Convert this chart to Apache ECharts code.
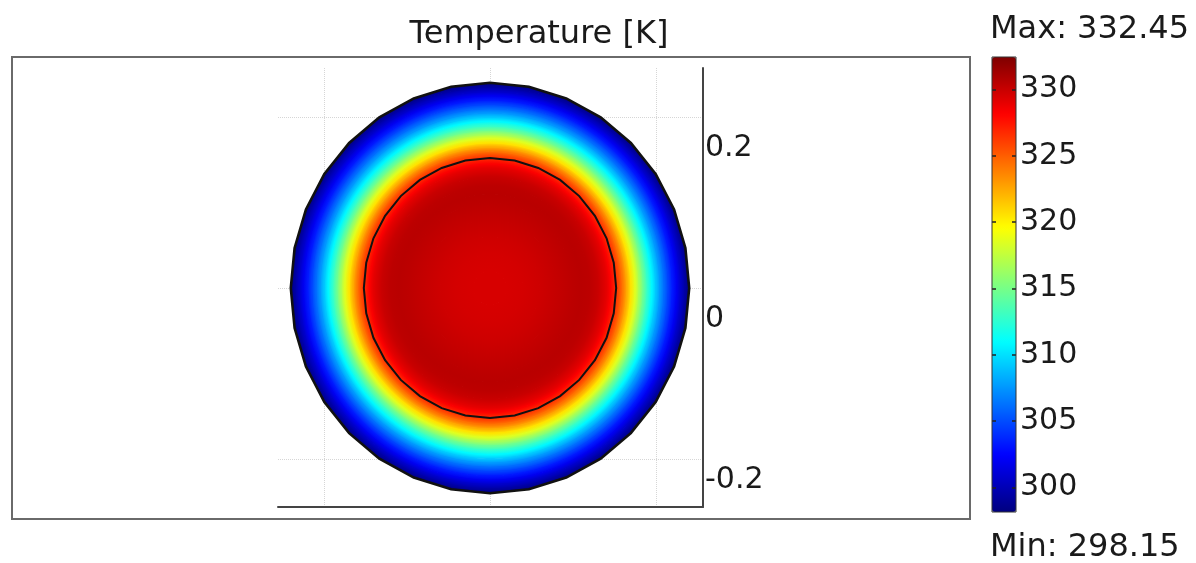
<!DOCTYPE html>
<html><head><meta charset="utf-8">
<script src="https://cdn.jsdelivr.net/npm/echarts@6/dist/echarts.min.js"></script>
<style>html,body{margin:0;padding:0;background:#fff}#chart{width:1196px;height:563px}</style>
</head><body><div id="chart"></div>
<script>
// Radial temperature profile (r in m, T in K)
const radii = [0.000, 0.020, 0.040, 0.060, 0.080, 0.100, 0.110, 0.120, 0.130, 0.140, 0.145,
               0.150, 0.155, 0.160, 0.165, 0.170, 0.175, 0.180, 0.185, 0.190, 0.195,
               0.200, 0.205, 0.210, 0.215, 0.220, 0.225, 0.230, 0.235, 0.240];
const temperatures = [329.5, 329.5, 329.6, 329.8, 330.1, 330.4, 330.5, 330.4, 330.0, 329.1, 328.3,
                      327.2, 325.8, 324.2, 322.4, 320.5, 318.5, 316.5, 314.5, 312.6, 310.8,
                      309.1, 307.5, 306.0, 304.6, 303.2, 301.9, 300.6, 299.4, 298.15];
const boundaryRadii = [0.24, 0.152];
const xRange = [-0.2554, 0.2566];
const yRange = [-0.2561, 0.2573];
const gridTicks = [-0.2, 0, 0.2];
const colorTicks = [300, 305, 310, 315, 320, 325, 330];
const tMin = 298.15, tMax = 332.45;
const titleText = 'Temperature [K]';
const maxText = 'Max: 332.45';
const minText = 'Min: 298.15';

const jet = ['#00007f','#0000ff','#007fff','#00ffff','#7fff7f','#ffff00','#ff7f00','#ff0000','#7f0000'];
const SIDES = 32;
const FONT = '"DejaVu Sans", Verdana, sans-serif';

function polygonPoints(api, R) {
  const pts = [];
  for (let k = 0; k < SIDES; k++) {
    const a = 2 * Math.PI * k / SIDES;
    pts.push(api.coord([R * Math.cos(a), R * Math.sin(a)]));
  }
  return pts;
}

function renderField(params, api) {
  const i = params.dataIndexInside;
  if (i >= radii.length - 1) return null;
  const c = api.coord([0, 0]);
  const r0 = api.value(0, i), r1 = api.value(0, i + 1);
  const rx0 = api.coord([r0, 0])[0] - c[0];
  const rx1 = api.coord([r1, 0])[0] - c[0];
  const ry1 = c[1] - api.coord([0, r1])[1];
  const col0 = api.visual('color', i), col1 = api.visual('color', i + 1);
  return {
    type: 'group',
    clipPath: { type: 'polygon', shape: { points: polygonPoints(api, boundaryRadii[0]) } },
    children: [{
      type: 'ring',
      shape: { cx: c[0], cy: c[1], r: rx1 + 0.3, r0: Math.max(0, rx0 - 0.6) },
      originX: c[0], originY: c[1], scaleY: ry1 / rx1,
      style: {
        fill: { type: 'radial', x: c[0], y: c[1], r: rx1, global: true,
                colorStops: [{ offset: rx0 / rx1, color: col0 }, { offset: 1, color: col1 }] },
        stroke: null
      }
    }]
  };
}

function renderBoundary(params, api) {
  const R = api.value(0);
  return {
    type: 'polygon',
    shape: { points: polygonPoints(api, R) },
    style: { fill: 'none', stroke: '#111', lineWidth: params.dataIndex === 0 ? 2.6 : 2 }
  };
}

const chart = echarts.init(document.getElementById('chart'), null, { renderer: 'canvas' });
const labelFmt = v => String(Math.round(v * 10) / 10);

chart.setOption({
  animation: false,
  backgroundColor: '#ffffff',
  textStyle: { fontFamily: FONT },
  grid: [
    { left: 278, top: 68, width: 425, height: 439, show: false },
    { left: 992, top: 57, width: 24, height: 455, show: false }
  ],
  xAxis: [
    { type: 'value', gridIndex: 0, min: xRange[0], max: xRange[1],
      axisLine: { show: true, onZero: false, lineStyle: { color: '#444', width: 2 } },
      axisTick: { show: false, customValues: gridTicks },
      axisLabel: { show: false, customValues: gridTicks },
      splitLine: { show: true, lineStyle: { color: '#d6d6d6', type: 'dotted', width: 1 } } },
    { type: 'value', gridIndex: 1, min: 0, max: 1, show: false }
  ],
  yAxis: [
    { type: 'value', gridIndex: 0, position: 'right', min: yRange[0], max: yRange[1],
      axisLine: { show: true, onZero: false, lineStyle: { color: '#444', width: 2 } },
      axisTick: { show: false, customValues: gridTicks },
      axisLabel: { show: true, customValues: gridTicks, margin: 2, verticalAlign: 'top',
        formatter: v => (v < -0.1 ? '{lo|' : '{hi|') + labelFmt(v) + '}',
        rich: {
          hi: { fontSize: 30, lineHeight: 62, color: '#1a1a1a', fontFamily: FONT },
          lo: { fontSize: 30, lineHeight: 42, color: '#1a1a1a', fontFamily: FONT }
        } },
      splitLine: { show: true, lineStyle: { color: '#d6d6d6', type: 'dotted', width: 1 } } },
    { type: 'value', gridIndex: 1, position: 'left', min: tMin, max: tMax, z: 10,
      axisLine: { show: false },
      axisTick: { show: true, inside: true, length: 4, customValues: colorTicks, lineStyle: { color: '#222', width: 1.5 } },
      axisLabel: { show: false },
      splitLine: { show: false } },
    { type: 'value', gridIndex: 1, position: 'right', min: tMin, max: tMax, z: 10,
      axisLine: { show: false },
      axisTick: { show: true, inside: true, length: 4, customValues: colorTicks, lineStyle: { color: '#222', width: 1.5 } },
      axisLabel: { show: true, customValues: colorTicks, margin: 4, fontSize: 30, color: '#1a1a1a', fontFamily: FONT },
      splitLine: { show: false } }
  ],
  visualMap: {
    type: 'continuous', min: tMin, max: tMax, dimension: 1, seriesIndex: 0,
    inRange: { color: jet }, left: 992, top: 57, itemWidth: 24, itemHeight: 455,
    padding: 0, calculable: false, hoverLink: false, text: null, showLabel: false
  },
  graphic: [
    { type: 'rect', z: 0, shape: { x: 12, y: 57, width: 958, height: 462 },
      style: { fill: 'none', stroke: '#6a6a6a', lineWidth: 2 } },
    { type: 'rect', z: 100, shape: { x: 992, y: 57, width: 24, height: 455 },
      style: { fill: 'none', stroke: '#333', lineWidth: 1 } },
    { type: 'text', x: 539, y: 35, z: 100,
      style: { text: titleText, font: '32px ' + FONT, fill: '#1a1a1a', align: 'center', verticalAlign: 'middle', textAlign: 'center', textVerticalAlign: 'middle' } },
    { type: 'text', x: 990, y: 30, z: 100,
      style: { text: maxText, font: '32px ' + FONT, fill: '#1a1a1a', align: 'left', verticalAlign: 'middle', textAlign: 'left', textVerticalAlign: 'middle' } },
    { type: 'text', x: 990, y: 548, z: 100,
      style: { text: minText, font: '32px ' + FONT, fill: '#1a1a1a', align: 'left', verticalAlign: 'middle', textAlign: 'left', textVerticalAlign: 'middle' } }
  ],
  series: [
    { type: 'custom', name: 'Temperature', xAxisIndex: 0, yAxisIndex: 0, silent: true, z: 2,
      renderItem: renderField,
      data: radii.map((r, i) => [r, temperatures[i]]) },
    { type: 'custom', name: 'Boundaries', xAxisIndex: 0, yAxisIndex: 0, silent: true, z: 3,
      renderItem: renderBoundary,
      data: boundaryRadii.map(r => [r, 0]) }
  ]
});
</script></body></html>
